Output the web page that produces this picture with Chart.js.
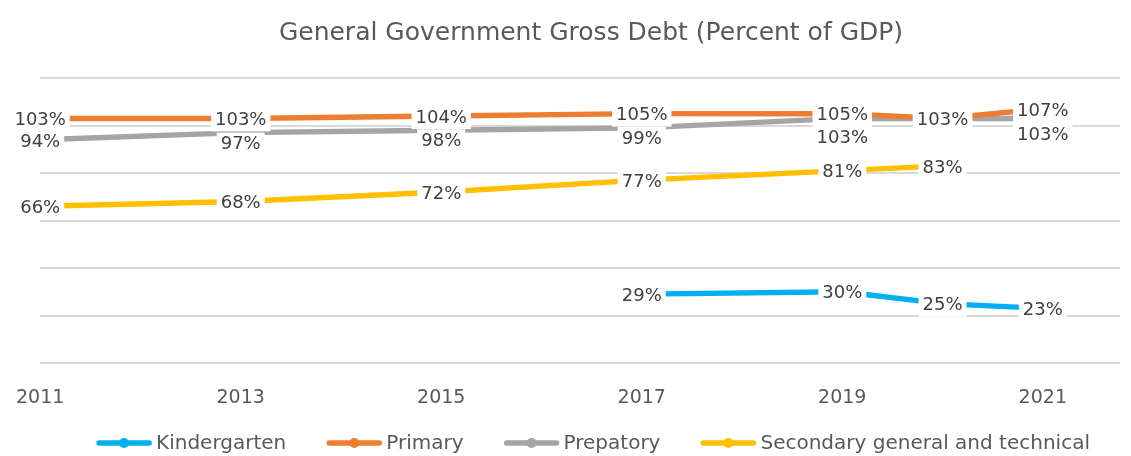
<!DOCTYPE html>
<html>
<head>
<meta charset="utf-8">
<script src="https://cdn.jsdelivr.net/npm/chart.js@4.4.1/dist/chart.umd.min.js"></script>
<style>
html, body { margin: 0; padding: 0; background: #fff; }
#wrap { width: 1131px; height: 456px; position: relative; }
</style>
</head>
<body>
<div id="wrap"><canvas id="debt"></canvas></div>
<script>
// years on the x axis (2020 has no tick label of its own)
const years = [2011, 2013, 2015, 2017, 2019, 2020, 2021];
const tickYears = [2011, 2013, 2015, 2017, 2019, 2021];

// percent of GDP per series
const kindergarten = [null, null, null, 29, 30, 25, 23];
const primary = [103, 103, 104, 105, 105, 103, 107];
const prepatory = [94, 97, 98, 99, 103, 103, 103];
const secondary = [66, 68, 72, 77, 81, 83, null];

const titleText = 'General Government Gross Debt (Percent of GDP)';
const FONT = '"DejaVu Sans", sans-serif';
const CENTER_X = 591;

Chart.defaults.font.family = FONT;

var toPoints = (arr) => years.map((x, i) => ({ x: x, y: arr[i] }));

var series = [
	{ label: 'Kindergarten', values: kindergarten, color: '#00B0F0' },
	{ label: 'Primary', values: primary, color: '#ED7D31' },
	{ label: 'Prepatory', values: prepatory, color: '#A5A5A5', shift: [1, 10, 9, 9, 18, 0, 15] },
	{ label: 'Secondary general and technical', values: secondary, color: '#FFC000' }
];

// value labels with a white box behind them, drawn over all lines
const pointLabels = {
	id: 'pointLabels',
	afterDatasetsDraw(chart) {
		const ctx = chart.ctx;
		ctx.save();
		ctx.font = '18px ' + FONT;
		ctx.textAlign = 'center';
		ctx.textBaseline = 'middle';
		chart.data.datasets.forEach((ds, i) => {
			const meta = chart.getDatasetMeta(i);
			const shift = ds.shift || [];
			meta.data.forEach((pt, j) => {
				const v = ds.data[j].y;
				if (v == null) return;
				const text = v + '%';
				const y = pt.y + 2 + (shift[j] || 0);
				const w = ctx.measureText(text).width + 8;
				ctx.fillStyle = '#fff';
				ctx.fillRect(pt.x - w / 2, y - 12, w, 23);
				ctx.fillStyle = '#404040';
				ctx.fillText(text, pt.x, y);
			});
		});
		ctx.restore();
	}
};

// title and the line-with-dot legend underneath
const titleLegend = {
	id: 'titleLegend',
	afterDraw(chart) {
		const ctx = chart.ctx;
		ctx.save();
		ctx.fillStyle = '#595959';
		ctx.textBaseline = 'middle';
		ctx.textAlign = 'center';
		ctx.font = '25px ' + FONT;
		ctx.fillText(titleText, CENTER_X, 33);

		ctx.font = '20px ' + FONT;
		ctx.textAlign = 'left';
		const sym = 56, gap = 4, between = 40, ly = 443;
		const widths = series.map(s => ctx.measureText(s.label).width);
		let total = 0;
		widths.forEach((w, i) => { total += sym + gap + w + (i < widths.length - 1 ? between : 0); });
		let x = CENTER_X + 2 - total / 2;
		series.forEach((s, i) => {
			ctx.strokeStyle = s.color;
			ctx.lineWidth = 5.5;
			ctx.lineCap = 'round';
			ctx.beginPath();
			ctx.moveTo(x + 3, ly);
			ctx.lineTo(x + sym - 3, ly);
			ctx.stroke();
			ctx.fillStyle = s.color;
			ctx.beginPath();
			ctx.arc(x + sym / 2, ly, 5, 0, Math.PI * 2);
			ctx.fill();
			ctx.fillStyle = '#595959';
			ctx.fillText(s.label, x + sym + gap, ly + 1);
			x += sym + gap + widths[i] + between;
		});
		ctx.restore();
	}
};

var ctx = document.getElementById('debt');

var chart = new Chart(ctx, {
	type: 'line',
	data: {
		datasets: series.map(s => ({
			label: s.label,
			data: toPoints(s.values),
			borderColor: s.color,
			backgroundColor: s.color,
			borderWidth: 5.5,
			pointRadius: 0,
			pointHoverRadius: 0,
			tension: 0,
			spanGaps: false,
			shift: s.shift
		}))
	},
	options: {
		responsive: true,
		maintainAspectRatio: false,
		animation: false,
		layout: {
			padding: { top: 78, left: 36, right: 11, bottom: 43 }
		},
		plugins: {
			legend: { display: false },
			title: { display: false },
			tooltip: { enabled: false }
		},
		scales: {
			x: {
				type: 'linear',
				min: 2011,
				max: 2021.77,
				afterBuildTicks: (scale) => {
					scale.ticks = tickYears.map(v => ({ value: v }));
				},
				afterFit: (scale) => { scale.height = 50; },
				grid: { display: false },
				border: { display: false },
				ticks: {
					color: '#595959',
					font: { size: 19 },
					padding: 16,
					maxRotation: 0,
					callback: (v) => String(v)
				}
			},
			y: {
				min: 0,
				max: 120,
				afterFit: (scale) => { scale.width = 0; },
				ticks: { display: false, stepSize: 20 },
				grid: { color: '#D9D9D9', lineWidth: 2, drawTicks: false },
				border: { display: false }
			}
		}
	},
	plugins: [pointLabels, titleLegend]
});
</script>
</body>
</html>
